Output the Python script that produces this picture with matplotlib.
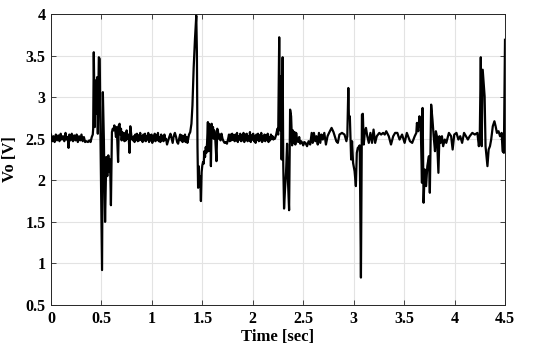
import matplotlib
matplotlib.use('Agg')
import matplotlib.pyplot as plt
import numpy as np

# ── data: (time [s], Vo [V]), one list per stretch ──
quiet_0 = [
    (0.000, 2.55), (0.012, 2.47), (0.024, 2.53), (0.036, 2.46), (0.048, 2.55),
    (0.060, 2.48), (0.072, 2.54), (0.084, 2.47), (0.096, 2.56), (0.108, 2.49),
    (0.120, 2.53), (0.132, 2.47), (0.144, 2.57), (0.156, 2.49), (0.166, 2.52),
    (0.174, 2.39), (0.182, 2.55), (0.194, 2.48), (0.206, 2.56), (0.218, 2.47),
    (0.230, 2.54), (0.242, 2.48), (0.254, 2.55), (0.266, 2.46), (0.278, 2.53),
    (0.290, 2.48), (0.302, 2.55), (0.314, 2.47), (0.326, 2.52), (0.338, 2.46),
    (0.352, 2.47), (0.366, 2.46), (0.380, 2.48), (0.392, 2.46), (0.404, 2.52),
    (0.414, 2.55),
]
event_1 = [
    (0.418, 2.62), (0.424, 3.54), (0.434, 2.64), (0.440, 3.20), (0.450, 2.80),
    (0.457, 3.24), (0.464, 2.56), (0.474, 3.48), (0.483, 3.46), (0.490, 2.56),
    (0.506, 0.92), (0.514, 3.06), (0.524, 2.50), (0.536, 1.50), (0.548, 2.28),
    (0.558, 2.05), (0.568, 2.30), (0.578, 2.10), (0.585, 2.25), (0.594, 1.70),
    (0.604, 2.58), (0.612, 2.62), (0.620, 2.60), (0.628, 2.66), (0.636, 2.61),
    (0.644, 2.52), (0.652, 2.64), (0.665, 2.22), (0.672, 2.66), (0.680, 2.68),
    (0.688, 2.55), (0.694, 2.62), (0.700, 2.48), (0.707, 2.58), (0.714, 2.50),
    (0.721, 2.56), (0.728, 2.47), (0.735, 2.57), (0.742, 2.48), (0.750, 2.60),
    (0.758, 2.50), (0.765, 2.55), (0.772, 2.47), (0.779, 2.33), (0.786, 2.65),
    (0.793, 2.57), (0.800, 2.50),
]
quiet_1 = [
    (0.812, 2.48), (0.820, 2.53), (0.828, 2.46), (0.836, 2.55), (0.844, 2.49),
    (0.852, 2.56), (0.860, 2.47), (0.868, 2.54), (0.876, 2.48), (0.884, 2.57),
    (0.892, 2.49), (0.900, 2.53), (0.908, 2.46), (0.916, 2.55), (0.924, 2.48),
    (0.932, 2.56), (0.940, 2.47), (0.948, 2.53), (0.956, 2.49), (0.964, 2.57),
    (0.972, 2.46), (0.980, 2.54), (0.988, 2.48), (0.996, 2.55), (1.004, 2.45),
    (1.012, 2.53), (1.020, 2.48), (1.028, 2.56), (1.036, 2.47), (1.044, 2.54),
    (1.052, 2.49), (1.060, 2.57), (1.068, 2.47), (1.076, 2.52), (1.084, 2.46),
    (1.092, 2.55), (1.100, 2.48), (1.108, 2.53), (1.116, 2.47), (1.124, 2.55),
    (1.132, 2.49), (1.140, 2.50), (1.150, 2.43), (1.160, 2.47), (1.172, 2.52),
    (1.184, 2.56), (1.196, 2.50), (1.206, 2.45), (1.216, 2.53), (1.228, 2.57),
    (1.240, 2.52), (1.250, 2.46), (1.260, 2.44), (1.270, 2.50), (1.280, 2.55),
    (1.288, 2.48), (1.296, 2.54), (1.304, 2.46), (1.312, 2.53), (1.320, 2.47),
    (1.328, 2.55), (1.336, 2.46), (1.344, 2.52), (1.352, 2.45), (1.360, 2.50),
    (1.368, 2.55),
]
event_2 = [
    (1.380, 2.58), (1.392, 2.68), (1.402, 2.90), (1.414, 3.35), (1.427, 3.70),
    (1.440, 3.98), (1.446, 3.55), (1.452, 2.40), (1.458, 1.91), (1.464, 2.17),
    (1.470, 1.95), (1.478, 2.05), (1.486, 1.75), (1.493, 2.10), (1.500, 2.18),
    (1.507, 2.22), (1.514, 2.20), (1.520, 2.35), (1.527, 2.28), (1.534, 2.40),
    (1.540, 2.33), (1.547, 2.45), (1.555, 2.70), (1.561, 2.35), (1.567, 2.68),
    (1.573, 2.50), (1.579, 2.62), (1.585, 2.17), (1.592, 2.68), (1.600, 2.60),
    (1.606, 2.64), (1.612, 2.50), (1.618, 2.60), (1.626, 2.55), (1.640, 2.23),
    (1.648, 2.62), (1.656, 2.58), (1.664, 2.50), (1.672, 2.55), (1.680, 2.48),
    (1.690, 2.56), (1.700, 2.50), (1.710, 2.47), (1.720, 2.45), (1.732, 2.46),
    (1.744, 2.44), (1.756, 2.50), (1.764, 2.55),
]
quiet_2 = [
    (1.772, 2.47), (1.780, 2.55), (1.788, 2.48), (1.796, 2.56), (1.804, 2.49),
    (1.812, 2.54), (1.820, 2.47), (1.828, 2.55), (1.836, 2.48), (1.844, 2.57),
    (1.852, 2.46), (1.860, 2.53), (1.868, 2.49), (1.876, 2.56), (1.884, 2.47),
    (1.892, 2.54), (1.900, 2.48), (1.908, 2.57), (1.916, 2.46), (1.924, 2.55),
    (1.932, 2.49), (1.940, 2.56), (1.948, 2.47), (1.956, 2.53), (1.964, 2.48),
    (1.972, 2.58), (1.980, 2.46), (1.988, 2.54), (1.996, 2.49), (2.004, 2.56),
    (2.012, 2.47), (2.020, 2.53), (2.028, 2.45), (2.036, 2.55), (2.044, 2.49),
    (2.052, 2.56), (2.060, 2.47), (2.068, 2.54), (2.076, 2.48), (2.084, 2.57),
    (2.092, 2.46), (2.100, 2.53), (2.108, 2.48), (2.116, 2.55), (2.124, 2.47),
    (2.132, 2.54), (2.140, 2.49), (2.148, 2.56), (2.156, 2.46), (2.164, 2.52),
    (2.172, 2.48), (2.180, 2.55), (2.188, 2.50), (2.196, 2.53), (2.204, 2.49),
    (2.212, 2.51),
]
event_3 = [
    (2.220, 2.50), (2.232, 2.55), (2.244, 2.62), (2.252, 2.55), (2.262, 3.72),
    (2.270, 2.60), (2.280, 3.25), (2.286, 2.25), (2.296, 3.48), (2.302, 2.20),
    (2.310, 1.66), (2.320, 1.90), (2.330, 2.10), (2.340, 2.44), (2.348, 2.02),
    (2.360, 1.64), (2.370, 2.85), (2.380, 2.77), (2.390, 2.42), (2.398, 2.60),
    (2.406, 2.45), (2.414, 2.58), (2.422, 2.43), (2.430, 2.57), (2.440, 2.48),
    (2.450, 2.46), (2.460, 2.52), (2.470, 2.44), (2.480, 2.47), (2.490, 2.45),
    (2.500, 2.42), (2.510, 2.46),
]
quiet_3 = [
    (2.522, 2.45), (2.538, 2.41), (2.553, 2.47), (2.569, 2.43), (2.584, 2.57),
    (2.594, 2.45), (2.606, 2.57), (2.619, 2.47), (2.631, 2.53), (2.644, 2.43),
    (2.656, 2.57), (2.669, 2.45), (2.681, 2.55), (2.694, 2.49), (2.709, 2.57),
    (2.725, 2.43), (2.741, 2.53), (2.756, 2.57), (2.781, 2.63), (2.800, 2.58),
    (2.815, 2.52), (2.828, 2.47), (2.843, 2.45), (2.859, 2.55), (2.884, 2.57),
    (2.909, 2.55), (2.928, 2.47), (2.937, 2.53),
]
event_4 = [
    (2.947, 3.11), (2.953, 2.75), (2.962, 2.77), (2.975, 2.25), (2.984, 2.47),
    (2.994, 2.21), (3.009, 2.11), (3.022, 1.93), (3.031, 2.33), (3.041, 2.39),
    (3.050, 2.40), (3.060, 2.42), (3.072, 0.83), (3.082, 2.79), (3.091, 2.80),
    (3.100, 2.43), (3.110, 2.57), (3.122, 2.63), (3.135, 2.53), (3.150, 2.45),
    (3.166, 2.57), (3.182, 2.45), (3.197, 2.61), (3.213, 2.45), (3.229, 2.53),
]
quiet_4 = [
    (3.254, 2.57), (3.272, 2.55), (3.292, 2.57), (3.308, 2.55), (3.323, 2.59),
    (3.348, 2.53), (3.370, 2.43), (3.392, 2.53), (3.411, 2.57), (3.433, 2.57),
    (3.455, 2.49), (3.480, 2.55), (3.505, 2.45), (3.527, 2.57), (3.558, 2.47),
    (3.580, 2.45), (3.605, 2.53), (3.621, 2.57),
]
event_5 = [
    (3.627, 2.69), (3.640, 2.59), (3.652, 2.77), (3.665, 2.65), (3.677, 1.97),
    (3.683, 2.87), (3.693, 1.73), (3.705, 2.13), (3.718, 1.93), (3.730, 2.17),
    (3.746, 2.29), (3.755, 1.85), (3.768, 2.91), (3.781, 2.73), (3.793, 2.53),
    (3.806, 2.35), (3.815, 2.59), (3.825, 2.53), (3.840, 2.09), (3.850, 2.53),
    (3.862, 2.45), (3.875, 2.53), (3.887, 2.41),
]
quiet_5 = [
    (3.903, 2.49), (3.918, 2.45), (3.944, 2.57), (3.966, 2.53), (3.981, 2.37),
    (3.997, 2.55), (4.019, 2.57), (4.038, 2.49), (4.056, 2.53), (4.075, 2.45),
    (4.094, 2.57), (4.113, 2.53), (4.132, 2.49), (4.150, 2.53), (4.176, 2.57),
    (4.201, 2.55), (4.226, 2.57), (4.241, 2.41), (4.250, 2.53),
]
event_6 = [
    (4.260, 3.48), (4.269, 2.41), (4.279, 3.33), (4.288, 3.17), (4.298, 3.01),
    (4.307, 2.41), (4.316, 2.29), (4.326, 2.17), (4.338, 2.37), (4.351, 2.41),
    (4.363, 2.49), (4.379, 2.65), (4.395, 2.71), (4.407, 2.65), (4.420, 2.57),
    (4.436, 2.59), (4.451, 2.53), (4.467, 2.57), (4.476, 2.35), (4.489, 2.33),
    (4.500, 3.69),
]

x_ticks = [0, 0.5, 1, 1.5, 2, 2.5, 3, 3.5, 4, 4.5]
x_labels = ['0', '0.5', '1', '1.5', '2', '2.5', '3', '3.5', '4', '4.5']
y_ticks = [0.5, 1, 1.5, 2, 2.5, 3, 3.5, 4]
y_labels = ['0.5', '1', '1.5', '2', '2.5', '3', '3.5', '4']

segments = [quiet_0, event_1, quiet_1, event_2, quiet_2, event_3, quiet_3,
            event_4, quiet_4, event_5, quiet_5, event_6]
pts = np.array([p for seg in segments for p in seg])
t, vo = pts[:, 0], pts[:, 1]

# ── figure ──
plt.rcParams['font.family'] = ['Liberation Serif', 'DejaVu Serif']
plt.rcParams['font.weight'] = 'bold'

fig = plt.figure(figsize=(5.5, 3.55), dpi=100)
ax = fig.add_axes([51/550, 1 - 305/355, 454/550, 291/355])

ax.plot(t, vo, color='black', lw=1.6, zorder=3)

ax.set_xlim(0, 4.5)
ax.set_ylim(0.5, 4)
ax.set_xticks(x_ticks)
ax.set_xticklabels(x_labels)
ax.set_yticks(y_ticks)
ax.set_yticklabels(y_labels)

ax.grid(True, color='#e3e3e3', lw=0.8, zorder=0)
ax.tick_params(direction='in', length=3.5, width=0.6, color='#262626',
               top=True, right=True, labelsize=11.5, pad=4)
for s in ax.spines.values():
    s.set_color('#262626')
    s.set_linewidth(0.7)

ax.set_xlabel('Time [sec]', fontsize=12, fontweight='bold', labelpad=2)
ax.set_ylabel('Vo [V]', fontsize=12, fontweight='bold', labelpad=5)

fig.savefig('out.png', dpi=100, facecolor='white')
